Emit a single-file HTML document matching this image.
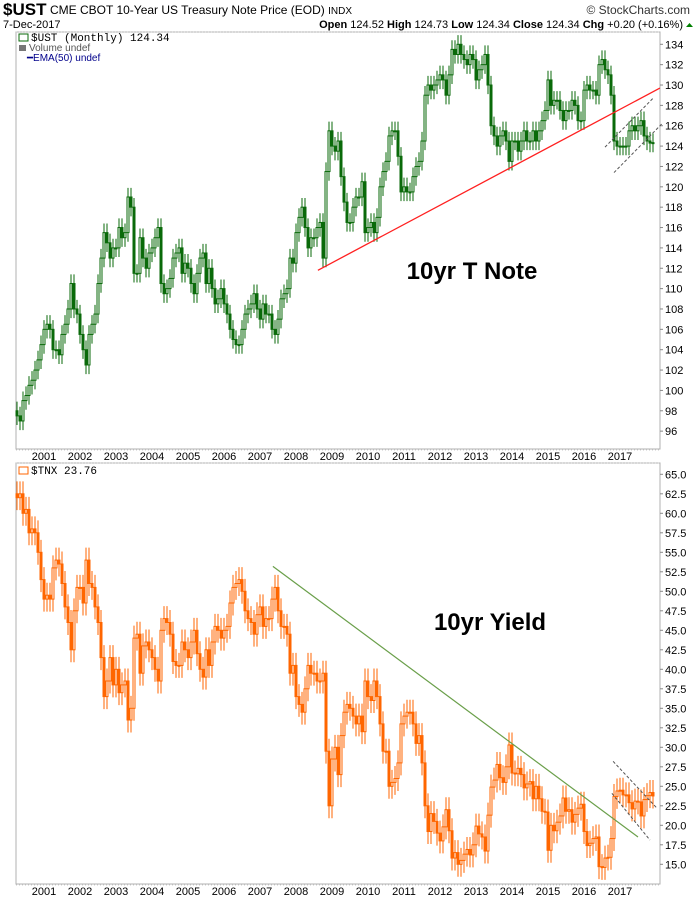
<!DOCTYPE html>
<html><head><meta charset="utf-8">
<style>
body{margin:0;background:#fff;width:700px;height:900px;overflow:hidden;font-family:"Liberation Sans",Arial,sans-serif}
svg{display:block}
</style></head>
<body>
<svg id="chart" width="700" height="900" xmlns="http://www.w3.org/2000/svg" font-family="Liberation Sans, Arial, sans-serif">
<g>
<text x="3" y="15" font-size="17" font-weight="bold" fill="#000">$UST</text>
<text x="50" y="14" font-size="12" fill="#000">CME CBOT 10-Year US Treasury Note Price (EOD) <tspan font-size="10">INDX</tspan></text>
<text x="690" y="14" font-size="12" fill="#333" text-anchor="end">© StockCharts.com</text>
<text x="3" y="28" font-size="11" fill="#000">7-Dec-2017</text>
<text x="683" y="28" font-size="11" fill="#000" text-anchor="end"><tspan font-weight="bold">Open</tspan> 124.52 <tspan font-weight="bold">High</tspan> 124.73 <tspan font-weight="bold">Low</tspan> 124.34 <tspan font-weight="bold">Close</tspan> 124.34 <tspan font-weight="bold">Chg</tspan> +0.20 (+0.16%)</text>
<path d="M686 27 L689.5 23 L693 27 Z" fill="#008000"/>
</g>
<g id="top"></g>
<g id="bot"></g>
</svg>
<script>
// ---- data (monthly closes, Apr 2000 .. Dec 2017) ----
const startMonth = -9; // Apr 2000 relative to Jan 2001
const yearLabels = ["2001","2002","2003","2004","2005","2006","2007","2008","2009","2010","2011","2012","2013","2014","2015","2016","2017"];
const priceTicks = [96,98,100,102,104,106,108,110,112,114,116,118,120,122,124,126,128,130,132,134];
const yieldTicks = ["15.0","17.5","20.0","22.5","25.0","27.5","30.0","32.5","35.0","37.5","40.0","42.5","45.0","47.5","50.0","52.5","55.0","57.5","60.0","62.5","65.0"];
const ustClose = [
97.5,97,99,99.5,100.5,101,102,103,104.5,
106,106.5,106,104,104,103.5,105.5,106.5,108,110.5,108,107.5,
105.5,104,102.5,105.5,106.5,107.5,110.5,113,115.5,114.5,113,114,
114,116,115,115.5,119,118,111.5,111.5,115,113,112,113.5,
114,115,116,110.5,109.5,110,111,113,113.5,114,111.5,112.5,
112,110.5,109.5,111.5,113,113.5,110.5,112,110,108.5,109,110,
108.5,107.5,106,105,104.5,104.5,106,107.5,108,108.5,109.5,108,
107,108.5,107.5,107.5,106,105.5,107,109,109.5,110,113,112.5,
115.5,117,118,116,114,115,115,116,116.5,113,121.5,125.5,
124,123.5,124.5,121,118.5,116.5,116.5,118,119,119,120.5,115.5,
116,116.5,115.5,117,120,121.5,122.5,125,125.5,125.5,123,119.5,
120,119.5,119.5,121,122,122.5,124.5,129,130,129.5,130,130.5,
131,130.5,129,131,133.5,133,134,133,132.5,132,133,132.5,
130.5,131.5,132,133,130,126,125,124,125,125.5,124.5,122.5,
124.5,124.5,123.5,124.5,125.5,124.5,124.5,125.5,124.5,125.5,126.5,127.5,
130.5,128,128.5,128.5,127.5,126.5,127.5,127.5,128.5,128,126.5,126.5,
129.5,130,129.5,129.5,129,132,132.5,131.5,131,129,124.5,124,
124,124,124,125.5,126,125.5,126,126.5,125,124.5,124.3,124.34];
const tnxClose = [
62,62.5,60,60.5,57.5,58,57.5,55,51.5,
49,49.5,49,53,54,53.5,51,48,46,42.5,47.5,50.5,
50.5,48.5,54,51,50.5,48,46,41.5,36.5,38.5,41.5,38,
40,37,38,38.5,33.5,35,44,44.5,39.5,43,43.5,42.5,
41.5,40,38.5,45,46.5,46,44.5,41,40.5,40.5,43.5,42.5,
41.5,43.5,45,42,40,39,42.5,40.5,43.5,45.5,45,44,
45,45.5,48.5,50.5,51,51.5,50,47.5,46.5,46,44.5,47,
48,45.5,46.5,46.5,49,50.5,47.5,45.5,45.5,44.5,39.5,40.5,
36.5,35.5,34.5,37.5,40.5,39.5,39.5,38.5,38.5,39.5,29.5,22.5,
28.5,30,26.5,31.5,34.5,35.5,35,34,33,34,32,38.5,
36.5,36,38.5,36.5,33,29.5,29.5,25,25.5,26,28,33,
34,34.5,34.5,33,30.5,31.5,28,22.5,19.2,21.5,20.5,19,
18,19.8,22,19.3,15.8,16.5,15,15.5,16.3,16.9,16.2,17.5,
19.9,18.9,18.5,16.7,21.3,24.9,25.8,27.8,26.1,25.5,27.5,30.3,
26.7,26.6,27.3,26.5,24.8,25.3,25.6,23.4,25,23.4,21.8,21.7,
16.8,20,19.3,20.4,21.2,23.5,21.8,22,20.4,21.4,22.2,22.7,
19.2,17.4,17.7,18.3,18.5,14.7,14.6,15.8,15.9,18.3,23.7,24.4,
24.5,23.9,23.9,22.9,22.1,23.1,23,21.2,23.3,23.8,24.2,23.76];
const ustTrend = [[91.3,111.8],[205.3,129.7]];
const ustChanUpper = [[187,123.9],[203,128.7]];
const ustChanLower = [[190,121.4],[206,126.2]];
const tnxTrend = [[76.3,53.2],[198,18.5]];
const tnxChanUpper = [[189.7,28.2],[204.3,22.2]];
const tnxChanLower = [[189.3,24.1],[202,18.1]];

const NS="http://www.w3.org/2000/svg";
function mk(parent,tag,attrs){const e=document.createElementNS(NS,tag);for(const k in attrs)e.setAttribute(k,attrs[k]);parent.appendChild(e);return e;}
const L=16,R=660;
function xm(m){return 44+m*3;}
const yP=p=>44.3+(134-p)*10.18;
const yY=v=>474.3+(65-v)*7.8;

function panel(g,pTop,pBottom,ticks,yf,labelFmt,closes,color,wickU,labelY){
  const fr=mk(g,'rect',{x:L,y:pTop,width:R-L,height:pBottom-pTop,fill:'#fff',stroke:'#b0b0b0','stroke-width':1});
  
  
  const tl=mk(g,'line',{x1:L,y1:pTop,x2:R,y2:pTop,stroke:'#c8c8c8','stroke-dasharray':'1,2'});
  
  
  ticks.forEach(t=>{const v=parseFloat(t);const y=yf(v);
    const tk=mk(g,'line',{x1:R,y1:y,x2:R+3,y2:y,stroke:'#888'});
    
    
    const tx=mk(g,'text',{x:R+5,y:y+4,'font-size':11,fill:'#000'});tx.textContent=labelFmt(t);
    
    });
  yearLabels.forEach((yl,i)=>{const x=xm(i*12);
    const t=mk(g,'text',{x:x,y:labelY,'font-size':11,fill:'#000','text-anchor':'middle'});t.textContent=yl;
    
    });
  const xl=mk(g,'line',{x1:L,y1:pBottom+1,x2:R,y2:pBottom+1,stroke:'#c8c8c8','stroke-dasharray':'1,2'});
  
  
  for(let i=0;i<closes.length;i++){
    const m=startMonth+i;const x=xm(m);
    const c=closes[i];const o=i>0?closes[i-1]:c+0.5;
    const hi=Math.max(o,c)+wickU, lo=Math.min(o,c)-wickU;
    const w=mk(g,'line',{x1:x,y1:yf(hi),x2:x,y2:yf(lo),stroke:color,'stroke-width':1});
    
    
    const yt=yf(Math.max(o,c)),yb=yf(Math.min(o,c));
    const down=c<o;
    const b=mk(g,'rect',{x:x-1,y:yt,width:2,height:Math.max(1,yb-yt),fill:down?color:'#fff',stroke:color,'stroke-width':1});
    
    
  }
}
function seg(g,pts,yf,attrs,name){
  const l=mk(g,'line',Object.assign({x1:xm(pts[0][0]),y1:yf(pts[0][1]),x2:xm(pts[1][0]),y2:yf(pts[1][1])},attrs));
  
  
}
const topPanel=document.getElementById('top'),botPanel=document.getElementById('bot');
panel(topPanel,32,449,priceTicks,yP,t=>String(t),ustClose,'#0a6a0a',0.9,460);
seg(topPanel,ustTrend,yP,{stroke:'#ff2020','stroke-width':1.3},'support-trendline');
seg(topPanel,ustChanUpper,yP,{stroke:'#555','stroke-dasharray':'3,2'},'channel-upper-line');
seg(topPanel,ustChanLower,yP,{stroke:'#555','stroke-dasharray':'3,2'},'channel-lower-line');
panel(botPanel,463,884,yieldTicks,yY,t=>t,tnxClose,'#ff6600',1.6,895);
seg(botPanel,tnxTrend,yY,{stroke:'#6a9f4a','stroke-width':1.2},'resistance-trendline');
seg(botPanel,tnxChanUpper,yY,{stroke:'#555','stroke-dasharray':'3,2'},'yield-channel-upper');
seg(botPanel,tnxChanLower,yY,{stroke:'#555','stroke-dasharray':'3,2'},'yield-channel-lower');
</script>
<svg style="position:absolute;left:0;top:0" width="700" height="900">
<text x="31" y="41" font-size="11" font-family="Liberation Mono, monospace" fill="#000">$UST (Monthly) 124.34</text>
<text x="29" y="51" font-size="10" fill="#555">Volume undef</text>
<text x="27" y="61" font-size="10" fill="#00008b">━EMA(50) undef</text>
<rect x="19" y="34" width="9" height="7" fill="none" stroke="#0a6a0a"/>
<rect x="19" y="45" width="7" height="6" fill="#777"/>
<text x="31" y="474" font-size="11" font-family="Liberation Mono, monospace" fill="#000">$TNX 23.76</text>
<rect x="19" y="467" width="9" height="7" fill="none" stroke="#ff6600"/>
<text x="472" y="279" font-size="24" font-weight="bold" text-anchor="middle" fill="#000">10yr T Note</text>
<text x="490" y="630" font-size="24" font-weight="bold" text-anchor="middle" fill="#000">10yr Yield</text>
</svg>
</body></html>
